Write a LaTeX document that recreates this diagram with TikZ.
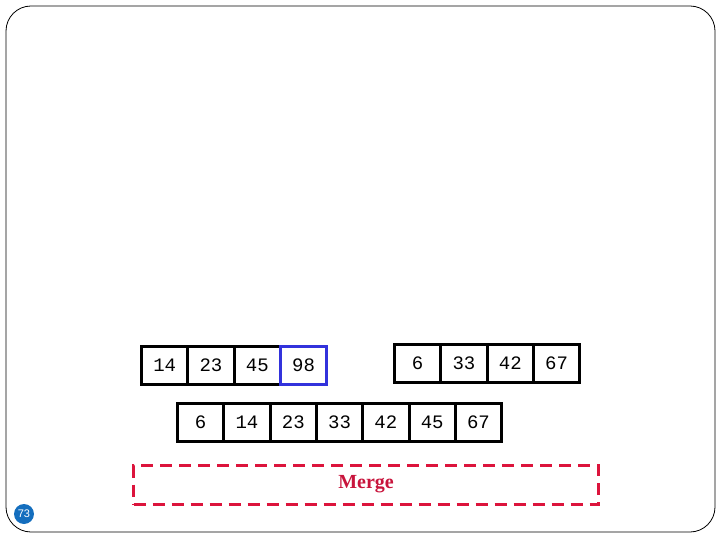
\documentclass[tikz,border=0pt]{standalone}
\usepackage{fontspec}
\setmainfont{Liberation Serif}
\newfontfamily\cellfont{Liberation Mono}
\newfontfamily\numfont{Liberation Sans}
\begin{document}
\begin{tikzpicture}[x=1pt,y=-1pt,
  cell/.style={draw=black,line width=3pt,minimum width=46.3pt,minimum height=38pt,inner sep=0pt,font=\cellfont\fontsize{19}{19}\selectfont,anchor=north west},
  bluecell/.style={cell,draw=blue!75!black!80!white},
  mergebox/.style={draw={rgb,255:red,220;green,20;blue,60},line width=3pt,dash pattern=on 12pt off 7pt,minimum width=465pt,minimum height=39pt,inner sep=0pt,anchor=north west}]
\useasboundingbox (0,0) rectangle (720,540);
\draw[line width=0.8pt,rounded corners=25pt] (6,6) rectangle (715,532);
% left array
\foreach \v [count=\i] in {14,23,45} {\node[cell] (a\i) at ({140+46.3*(\i-1)},345) {\v};}
\node[cell,draw={rgb,255:red,50;green,50;blue,220}] (a4) at ({140+46.3*3},345) {98};
% right array
\foreach \v [count=\i] in {6,33,42,67} {\node[cell] (b\i) at ({393+46.3*(\i-1)},343) {\v};}
% result
\foreach \v [count=\i] in {6,14,23,33,42,45,67} {\node[cell] (c\i) at ({176+46.3*(\i-1)},402) {\v};}
\node[mergebox] (m) at (132,464) {};
\node[text={rgb,255:red,200;green,20;blue,60},font=\bfseries\fontsize{20}{20}\selectfont] (mt) at (366,484) {Merge};
\node[circle,fill={rgb,255:red,20;green,110;blue,190},minimum size=20pt,inner sep=0pt,text=white,font=\numfont\fontsize{11}{11}\selectfont] (pg) at (24,514) {73};
\end{tikzpicture}
\end{document}
